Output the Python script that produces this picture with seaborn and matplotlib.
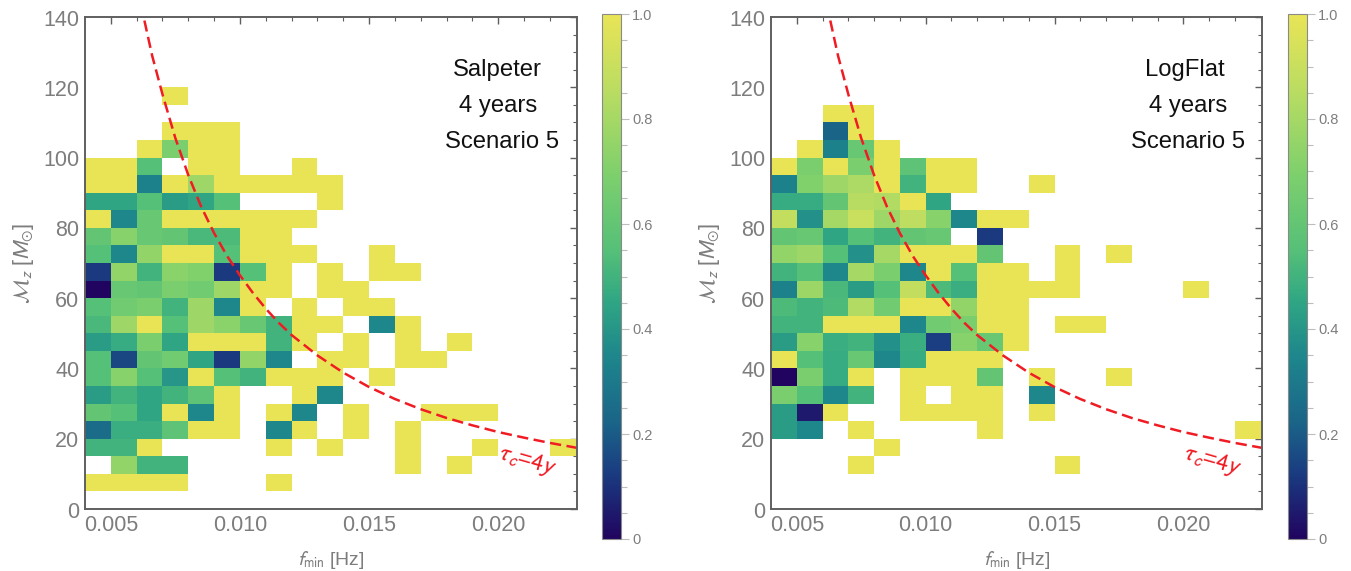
import numpy as np
import pandas as pd
import matplotlib
matplotlib.use("Agg")
import matplotlib.pyplot as plt
from matplotlib.colors import LinearSegmentedColormap
from matplotlib.ticker import FixedLocator
from matplotlib.transforms import ScaledTranslation
import seaborn as sns

sns.set_style("white")
plt.rcParams['font.family'] = ['Liberation Sans', 'DejaVu Sans']
plt.rcParams['mathtext.fontset'] = 'stixsans'

Y = 1.0
_ = np.nan

f_edges = [0.004 + 0.001 * i for i in range(19)]
m_edges = [5 * i for i in range(28)]

# one row per chirp mass bin, lowest first (0-5 first), one column per fmin bin
salpeter = [
    [_] * 19,
    [Y, Y, Y, Y, _, _, _, Y, _, _, _, _, _, _, _, _, _, _, _],
    [_, .75, .5, .5, _, _, _, _, _, _, _, _, Y, _, Y, _, _, _, _],
    [.5, .5, Y, _, _, _, _, Y, _, Y, _, _, Y, _, _, Y, _, _, Y],
    [.25, .48, .48, .58, Y, Y, _, .35, Y, _, Y, _, Y, _, _, _, _, _, _],
    [.6, .55, .45, Y, .35, Y, _, Y, .35, _, Y, _, _, Y, Y, Y, _, _, _],
    [.42, .5, .45, .5, .58, Y, _, _, Y, .35, _, _, _, _, _, _, _, _, _],
    [.55, .72, .55, .4, Y, .55, .5, Y, Y, Y, _, Y, _, _, _, _, _, _, _],
    [.55, .15, .6, .65, .45, .12, .75, .35, _, Y, Y, _, Y, Y, _, _, _, _, _],
    [.42, .47, .68, .45, Y, Y, Y, .5, Y, _, Y, _, Y, _, Y, _, _, _, _],
    [.52, .78, Y, .55, .78, .73, .62, .5, Y, Y, _, .35, Y, _, _, _, _, _, _],
    [.55, .65, .68, .5, .78, .35, Y, _, Y, _, Y, Y, _, _, _, _, _, _, _],
    [0, .62, .6, .68, .65, .78, Y, Y, _, Y, Y, _, _, _, _, _, _, _, _],
    [.12, .75, .5, .73, .7, .12, .55, Y, _, Y, _, Y, Y, _, _, _, _, _, _],
    [.55, .35, .75, Y, Y, .55, Y, Y, Y, _, _, Y, _, _, _, _, _, _, _],
    [.6, .72, .62, .6, .52, .53, Y, Y, _, _, _, _, _, _, _, _, _, _, _],
    [Y, .35, .62, Y, Y, Y, Y, Y, Y, _, _, _, _, _, _, _, _, _, _],
    [.45, .45, .55, .42, .45, .55, _, _, _, Y, _, _, _, _, _, _, _, _, _],
    [Y, Y, .33, Y, .78, Y, Y, Y, Y, Y, _, _, _, _, _, _, _, _, _],
    [Y, Y, .55, _, Y, Y, _, _, Y, _, _, _, _, _, _, _, _, _, _],
    [_, _, Y, .68, Y, Y, _, _, _, _, _, _, _, _, _, _, _, _, _],
    [_, _, _, Y, Y, Y, _, _, _, _, _, _, _, _, _, _, _, _, _],
    [_] * 19,
    [_, _, _, Y, _, _, _, _, _, _, _, _, _, _, _, _, _, _, _],
]

logflat = [
    [_] * 19,
    [_] * 19,
    [_, _, _, Y, _, _, _, _, _, _, _, Y, _, _, _, _, _, _, _],
    [_, _, _, _, Y, _, _, _, _, _, _, _, _, _, _, _, _, _, _],
    [.42, .35, _, Y, _, _, _, _, Y, _, _, _, _, _, _, _, _, _, Y],
    [.42, .05, Y, _, _, Y, Y, Y, Y, _, Y, _, _, _, _, _, _, _, _],
    [.68, .55, .35, .5, _, Y, _, Y, Y, _, .35, _, _, _, _, _, _, _, _],
    [0, .68, .47, Y, _, Y, Y, Y, .6, _, Y, _, _, Y, _, _, _, _, _],
    [Y, .55, .47, .62, .35, .47, Y, Y, Y, _, _, _, _, _, _, _, _, _, _],
    [.42, .72, .48, .5, .38, .48, .13, .72, .62, Y, _, _, _, _, _, _, _, _, _],
    [.5, .5, Y, Y, Y, .35, .65, .68, Y, Y, _, Y, Y, _, _, _, _, _, _],
    [.53, .5, .53, .83, .65, Y, Y, .75, Y, Y, _, _, _, _, _, _, _, _, _],
    [.33, .77, .52, .42, .55, .88, .53, .48, Y, Y, Y, Y, _, _, _, _, Y, _, _],
    [.5, .55, .35, .8, .68, .35, Y, .55, Y, Y, _, Y, _, _, _, _, _, _, _],
    [.75, .78, .55, .38, .8, Y, Y, Y, .6, _, _, Y, _, Y, _, _, _, _, _],
    [.6, .62, .45, .55, .5, .6, .62, _, .12, _, _, _, _, _, _, _, _, _, _],
    [.88, .38, .8, .9, .78, .87, .72, .35, Y, Y, _, _, _, _, _, _, _, _, _],
    [.47, .47, .6, .85, .83, Y, .45, _, _, _, _, _, _, _, _, _, _, _, _],
    [.33, .7, .78, .82, Y, .5, Y, Y, _, _, Y, _, _, _, _, _, _, _, _],
    [Y, .68, Y, .68, Y, .58, Y, Y, _, _, _, _, _, _, _, _, _, _, _],
    [_, Y, .33, .62, Y, _, _, _, _, _, _, _, _, _, _, _, _, _, _],
    [_, _, .22, Y, _, _, _, _, _, _, _, _, _, _, _, _, _, _, _],
    [_, _, Y, Y, _, _, _, _, _, _, _, _, _, _, _, _, _, _, _],
    [_] * 19,
]

# tau_c = 4 yr curve
curve_f = [.0063, .0066, .0070, .0075, .0080, .0085, .0090, .0095, .0100, .0105,
           .0110, .0115, .0120, .0130, .0140, .0150, .0160, .0170, .0180, .0190,
           .0200, .0210, .0220, .02305]
curve_m = [139, 129, 118, 105.5, 95, 86, 78.5, 72, 66.5, 61.5,
           57, 53, 49.5, 43.7, 38.8, 34.7, 31.3, 28.4, 25.9, 23.8,
           21.9, 20.3, 18.8, 17.4]

colors = [(0.0, "#21045f"), (0.12, "#1a3a80"), (0.22, "#1a6488"), (0.35, "#1e878c"),
          (0.45, "#2fa584"), (0.55, "#55c078"), (0.7, "#7fd06c"), (0.85, "#b8dc62"),
          (1.0, "#e9e456")]
bgy = LinearSegmentedColormap.from_list("bgy", colors)

gray = "#7d7d7d"
frame = "#5f5f5f"
W, H = 1351, 571

fig = plt.figure(figsize=(13.51, 5.71), dpi=100)


def panel(left, right, cb_left, grid, lines, xs):
    ax = fig.add_axes([left / W, 1 - 509 / H, (right - left) / W, 492 / H])
    cax = fig.add_axes([cb_left / W, 1 - 539 / H, 19 / W, 525 / H])
    table = pd.DataFrame(grid, index=m_edges[:len(grid)], columns=f_edges)
    sns.heatmap(table, ax=ax, cmap=bgy, vmin=0, vmax=1, cbar_ax=cax)

    # heatmap works in cell units
    ax.plot((np.array(curve_f) - 0.004) / 0.001, np.array(curve_m) / 5,
            color="#f01c24", lw=1.8, ls=(0, (4.5, 2.2)), clip_on=True)
    ax.set_xlim(0, 19.05)
    ax.set_ylim(0, 28)

    ax.xaxis.set_major_locator(FixedLocator([1, 6, 11, 16]))
    ax.xaxis.set_minor_locator(FixedLocator(list(range(1, 20))))
    ax.set_xticklabels(["0.005", "0.010", "0.015", "0.020"], rotation=0)
    ax.yaxis.set_major_locator(FixedLocator(list(range(0, 29, 4))))
    ax.yaxis.set_minor_locator(FixedLocator(list(range(0, 29))))
    ax.set_yticklabels([str(v) for v in range(0, 141, 20)], rotation=0, va="center")
    ax.tick_params(which="major", direction="in", top=True, right=True, length=5, width=1,
                   color=frame, labelcolor=gray, labelsize=15.5, pad=4)
    ax.tick_params(which="minor", direction="in", top=True, right=True, length=3, width=0.8,
                   color=frame)
    # the y labels sit a little low in the original
    shift = ScaledTranslation(0, -3 / 100, fig.dpi_scale_trans)
    for lab in ax.get_yticklabels():
        lab.set_transform(lab.get_transform() + shift)
    for s in ax.spines.values():
        s.set_visible(True)
        s.set_color(frame)
        s.set_linewidth(1.4)

    ax.set_xlabel(r"$f_{\mathrm{min}}$ [Hz]", fontsize=14, color=gray, va="center")
    ax.set_ylabel(r"$\mathcal{M}_z$ [$M_{\odot}$]", fontsize=15.5, color=gray, va="center")
    ax.xaxis.set_label_coords(0.5, -0.104)
    ax.yaxis.set_label_coords(-0.126, 0.5)

    for txt, xa, ya in zip(lines, xs, [0.892, 0.819, 0.746]):
        ax.text(xa, ya, txt, transform=ax.transAxes, ha="center", va="center",
                fontsize=17.2, color="#111111")
    ax.text(0.899, 0.096, r"$\tau_c$=$4y$", transform=ax.transAxes, ha="center", va="center",
            fontsize=17, color="#f01c24", rotation=-16)

    cbar = ax.collections[0].colorbar
    cbar.set_ticks([0, .2, .4, .6, .8, 1.0])
    cbar.set_ticklabels(["0", "0.2", "0.4", "0.6", "0.8", "1.0"])
    cbar.ax.yaxis.set_minor_locator(FixedLocator([i * .05 for i in range(21)]))
    cbar.ax.tick_params(which="major", length=6, width=0.8, color="#bdbdbd",
                        labelcolor=gray, labelsize=10.5, pad=2)
    cbar.ax.tick_params(which="minor", length=4, width=0.8, color="#bdbdbd")
    cbar.outline.set_visible(True)
    cbar.outline.set_edgecolor("#8a8a8a")
    cbar.outline.set_linewidth(0.8)
    return ax


panel(85, 577, 602, salpeter, ["Salpeter", "4 years", "Scenario 5"], [0.839, 0.839, 0.848])
panel(771, 1262, 1288, logflat, ["LogFlat", "4 years", "Scenario 5"], [0.843, 0.849, 0.849])

plt.savefig("out.png", dpi=100)
